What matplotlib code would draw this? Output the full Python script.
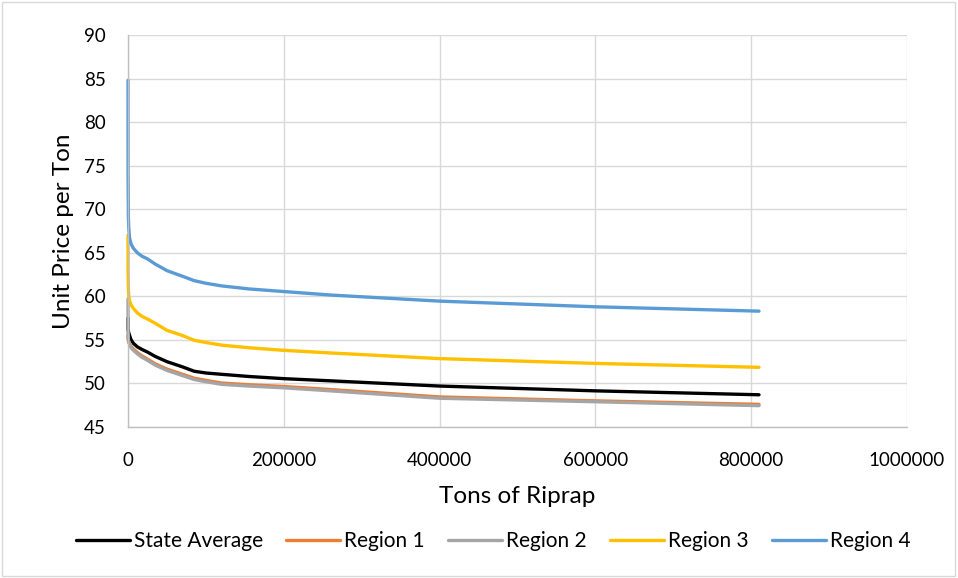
import matplotlib
matplotlib.use("Agg")
import matplotlib.pyplot as plt
from matplotlib.patches import Rectangle

plt.rcParams["font.family"] = ["Lato", "DejaVu Sans"]

# Tons of riprap at which the unit price curves are sampled
tons = [1, 100, 500, 1000, 2000, 4000, 7000, 12000, 18000, 25000, 35000,
        50000, 70000, 85000, 100000, 120000, 155000, 200000, 260000,
        400000, 600000, 810000]

# Unit price per ton for each series
state_average = [57.5, 56.3, 56.0, 55.8, 55.5, 55.0, 54.6, 54.2, 53.9, 53.6, 53.1,
                 52.5, 51.9, 51.4, 51.2, 51.05, 50.8, 50.55, 50.3,
                 49.7, 49.15, 48.7]
region_1 = [55.6, 55.2, 54.9, 54.8, 54.6, 54.25, 53.95, 53.55, 53.15, 52.8, 52.25,
            51.65, 51.05, 50.6, 50.35, 50.05, 49.85, 49.65, 49.3,
            48.45, 48.0, 47.6]
region_2 = [59.7, 55.8, 55.0, 54.7, 54.5, 54.1, 53.8, 53.4, 53.0, 52.65, 52.1,
            51.5, 50.9, 50.45, 50.2, 49.9, 49.7, 49.5, 49.15,
            48.3, 47.9, 47.45]
region_3 = [67.0, 63.0, 60.8, 60.0, 59.5, 59.0, 58.6, 58.1, 57.7, 57.4, 56.9,
            56.1, 55.5, 54.95, 54.7, 54.4, 54.1, 53.8, 53.5,
            52.85, 52.3, 51.85]
region_4 = [84.8, 74.0, 69.0, 67.8, 66.7, 66.0, 65.5, 65.0, 64.6, 64.3, 63.7,
            62.95, 62.3, 61.8, 61.5, 61.2, 60.85, 60.55, 60.15,
            59.45, 58.8, 58.3]

series = [
    ("State Average", state_average, "#000000"),
    ("Region 1", region_1, "#ED7D31"),
    ("Region 2", region_2, "#A5A5A5"),
    ("Region 3", region_3, "#FFC000"),
    ("Region 4", region_4, "#5B9BD5"),
]

x_ticks = [0, 200000, 400000, 600000, 800000, 1000000]
y_ticks = [45, 50, 55, 60, 65, 70, 75, 80, 85, 90]

W, H = 958, 578
fig = plt.figure(figsize=(W / 100, H / 100), dpi=100)
left, right, top, bottom = 128, 907, 35, 427
ax = fig.add_axes([left / W, 1 - bottom / H, (right - left) / W, (bottom - top) / H])

for name, values, color in series:
    ax.plot(tons, values, color=color, lw=2.4, label=name, clip_on=False,
            solid_capstyle="round", solid_joinstyle="round")

ax.set_xlim(0, 1000000)
ax.set_ylim(45, 90)
ax.set_xticks(x_ticks)
ax.set_xticklabels([str(v) for v in x_ticks])
ax.set_yticks(y_ticks)
ax.set_yticklabels([str(v) for v in y_ticks])

ax.grid(True, color="#D9D9D9", lw=1.0)
ax.set_axisbelow(True)
for side in ("top", "right"):
    ax.spines[side].set_visible(False)
for side in ("left", "bottom"):
    ax.spines[side].set_color("#BFBFBF")
    ax.spines[side].set_linewidth(1.0)

ax.tick_params(axis="both", length=0, labelsize=13.5, colors="#000000")
ax.tick_params(axis="y", pad=16)
ax.tick_params(axis="x", pad=18)

ax.set_xlabel("Tons of Riprap", fontsize=17.5, labelpad=12)
ax.set_ylabel("Unit Price per Ton", fontsize=17.5, labelpad=7)

handles, labels = ax.get_legend_handles_labels()
fig.legend(handles, labels, loc="center", bbox_to_anchor=(493 / W, 1 - 541 / H),
           ncol=5, frameon=False, fontsize=15, handlelength=2.6,
           handletextpad=0.2, columnspacing=1.1)

fig.patches.append(Rectangle((0.002, 0.003), 0.995, 0.994, transform=fig.transFigure,
                             fill=False, edgecolor="#D9D9D9", lw=1.0))

fig.savefig("out.png", dpi=100)
